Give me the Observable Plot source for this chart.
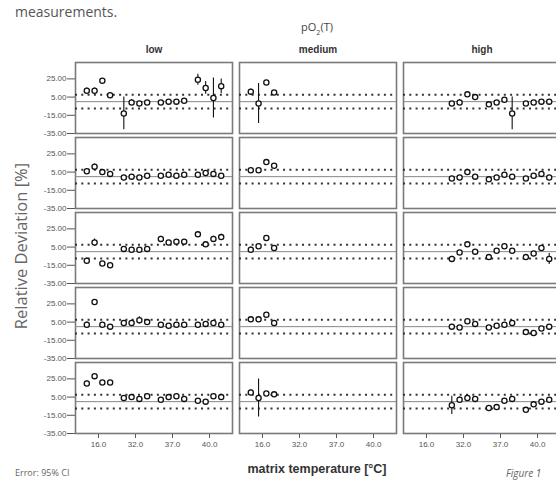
<!DOCTYPE html>
<html><head><meta charset="utf-8">
<script src="https://cdn.jsdelivr.net/npm/d3@7"></script>
<script src="https://cdn.jsdelivr.net/npm/@observablehq/plot@0.6"></script>
<style>
body{margin:0;background:#fff;overflow:hidden;}
#wrap{position:relative;width:556px;height:481px;overflow:hidden;font-family:"Open Sans",sans-serif;}
.t{position:absolute;white-space:nowrap;}
#chart svg{position:absolute;left:0;top:0;max-width:none !important;}
#chart [aria-label="fx-axis tick label"] text{font-weight:bold;font-size:10px;fill:#333;}
</style></head><body>
<div id="wrap">
  <div id="chart"></div>
  <div class="t" style="left:15px;top:2px;font-size:14px;color:#555;">measurements.</div>
  <div class="t" style="left:317px;top:28px;transform:translate(-50%,-50%);font-size:11px;color:#444;">pO<sub style="font-size:7px">2</sub>(T)</div>
  <div class="t" style="left:20px;top:246px;transform:translate(-50%,-50%) rotate(-90deg);font-size:16.5px;color:#666;">Relative Deviation [%]</div>
  <div class="t" style="left:317px;top:469px;transform:translate(-50%,-50%);font-size:12.5px;font-weight:bold;color:#333;font-family:'Liberation Sans',Arial,sans-serif;">matrix temperature [°C]</div>
  <div class="t" style="left:15px;top:466px;font-size:9px;color:#666;">Error: 95% CI</div>
  <div class="t" style="left:506px;top:466px;font-size:10px;font-style:italic;color:#666;">Figure 1</div>
</div>
<script>
const levels = ["low", "medium", "high"];
const temps = ["16.0", "32.0", "37.0", "40.0"];
const rowIds = [1, 2, 3, 4, 5];
const lowTemps = ["16.0", "32.0", "37.0", "40.0"];
const mediumTemps = ["16.0"];
const highTemps = ["32.0", "37.0", "40.0"];
const yTicks = [25, 5, -15, -35];
const refLines = [7.5, -7.5];
const zeroLine = [0];

// row 1
const low1Mean = [12, 12, 23, 7,  -13, -1, -2, -1,  -1, 0, 0, 1,  24, 15, 4, 17];
const low1Ci   = [3, 3, 1, 2,  18, 3, 2, 2,  2, 2, 2, 2,  6, 7, 22, 8];
const med1Mean = [11, -2, 21, 10];
const med1Ci   = [3, 22, 1, 2];
const high1Mean = [-2, -1, 8, 5,  -3, -1, 2, -13,  -2, -1, 0, 0];
const high1Ci   = [2, 3, 1, 2,  2, 2, 2, 18,  2, 2, 2, 2];
// row 2
const low2Mean = [6, 11, 5, 3,  -1, 0, -1, 1,  1, 2, 1, 2,  2, 4, 3, 1];
const low2Ci   = [2, 3, 2, 2,  2, 2, 2, 2,  2, 2, 2, 2,  2, 2, 2, 2];
const med2Mean = [7, 7, 16, 12];
const med2Ci   = [2, 2, 1, 2];
const high2Mean = [-2, -1, 5, 0,  -3, -1, 2, 0,  -2, 1, 3, -1];
const high2Ci   = [2, 2, 2, 2,  2, 2, 2, 2,  2, 2, 2, 2];
// row 3
const low3Mean = [-10, 10, -13, -15,  3, 2, 2, 3,  14, 10, 11, 11,  19, 8, 14, 16];
const low3Ci   = [3, 4, 2, 2,  2, 2, 2, 2,  3, 2, 2, 2,  3, 3, 3, 3];
const med3Mean = [2, 6, 15, 4];
const med3Ci   = [3, 3, 2, 2];
const high3Mean = [-8, -1, 8, 0,  -6, 1, 6, 1,  -6, -2, 4, -8];
const high3Ci   = [3, 2, 2, 2,  2, 2, 2, 2,  2, 2, 2, 6];
// row 4
const low4Mean = [2, 27, 2, 0,  4, 4, 7, 5,  2, 1, 2, 2,  2, 3, 4, 2];
const low4Ci   = [3, 2, 2, 2,  2, 3, 4, 2,  2, 2, 2, 2,  2, 2, 2, 2];
const med4Mean = [8, 8, 13, 4];
const med4Ci   = [2, 2, 1, 2];
const high4Mean = [0, -1, 6, 3,  -1, 1, 2, 4,  -6, -7, -2, 0];
const high4Ci   = [2, 2, 2, 2,  2, 2, 2, 2,  2, 2, 2, 2];
// row 5
const low5Mean = [20, 28, 21, 21,  4, 5, 3, 6,  2, 5, 6, 3,  1, 0, 6, 5];
const low5Ci   = [3, 2, 1, 1,  2, 2, 2, 2,  2, 2, 2, 2,  2, 2, 2, 2];
const med5Mean = [10, 4, 9, 8];
const med5Ci   = [3, 21, 2, 2];
const high5Mean = [-4, 2, 4, 3,  -7, -6, 1, 3,  -9, -3, 0, 2];
const high5Ci   = [10, 3, 2, 2,  2, 2, 2, 2,  2, 2, 2, 2];

const points = [];
function addPanel(level, row, tlist, means, cis) {
  means.forEach((m, i) => {
    points.push({level, row, temp: tlist[Math.floor(i / 4)], sensor: i % 4,
      mean: m, lo: m - cis[i], hi: m + cis[i]});
  });
}
addPanel("low", 1, lowTemps, low1Mean, low1Ci);
addPanel("medium", 1, mediumTemps, med1Mean, med1Ci);
addPanel("high", 1, highTemps, high1Mean, high1Ci);
addPanel("low", 2, lowTemps, low2Mean, low2Ci);
addPanel("medium", 2, mediumTemps, med2Mean, med2Ci);
addPanel("high", 2, highTemps, high2Mean, high2Ci);
addPanel("low", 3, lowTemps, low3Mean, low3Ci);
addPanel("medium", 3, mediumTemps, med3Mean, med3Ci);
addPanel("high", 3, highTemps, high3Mean, high3Ci);
addPanel("low", 4, lowTemps, low4Mean, low4Ci);
addPanel("medium", 4, mediumTemps, med4Mean, med4Ci);
addPanel("high", 4, highTemps, high4Mean, high4Ci);
addPanel("low", 5, lowTemps, low5Mean, low5Ci);
addPanel("medium", 5, mediumTemps, med5Mean, med5Ci);
addPanel("high", 5, highTemps, high5Mean, high5Ci);

const clusterSpread = 0.21;
const xPos = d => temps.indexOf(d.temp) + (d.sensor - 1.5) * clusterSpread;

const plot = Plot.plot({
  width: 561,
  height: 481,
  marginLeft: 74,
  marginRight: 0,
  marginTop: 60,
  marginBottom: 45,
  style: {fontFamily: "'Liberation Sans', Arial, sans-serif", fontSize: "8px", color: "#555", background: "transparent", maxWidth: "none"},
  fx: {domain: levels, paddingInner: 0.04, paddingOuter: 0, axis: "top", label: null, tickSize: 0, tickPadding: 10},
  fy: {domain: rowIds, paddingInner: 0.05, paddingOuter: 0, axis: null},
  x: {domain: [-0.62, 3.62], ticks: [0, 1, 2, 3], tickFormat: i => temps[i], tickSize: 5, tickPadding: 3, label: null},
  y: {domain: [-35, 43], ticks: yTicks, tickFormat: d => d.toFixed(2), tickSize: 8, tickPadding: 1, label: null},
  marks: [
    Plot.frame({stroke: "#7a7a7a", strokeWidth: 1.6}),
    Plot.ruleY(zeroLine, {stroke: "#888", strokeWidth: 1}),
    Plot.ruleY(refLines, {stroke: "#333", strokeWidth: 2, strokeDasharray: "2,4.3"}),
    Plot.ruleX(points, {x: xPos, y1: "lo", y2: "hi", fx: "level", fy: "row", stroke: "#111", strokeWidth: 1.1}),
    Plot.dot(points, {x: xPos, y: "mean", fx: "level", fy: "row", r: 2.6, stroke: "#111", fill: "white", strokeWidth: 1.3})
  ]
});
document.getElementById("chart").appendChild(plot);
</script>
</body></html>
